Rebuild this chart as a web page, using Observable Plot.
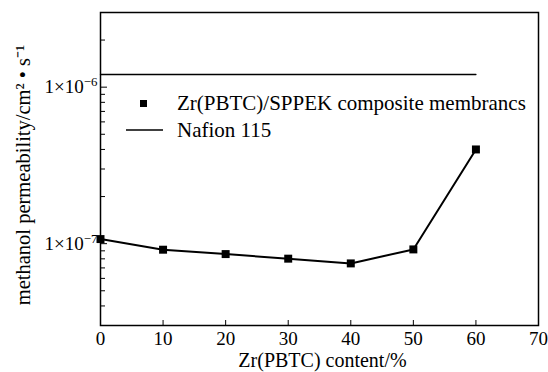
<!DOCTYPE html>
<html><head><meta charset="utf-8">
<script src="https://cdn.jsdelivr.net/npm/d3@7"></script>
<script src="https://cdn.jsdelivr.net/npm/@observablehq/plot@0.6"></script>
<style>
body{margin:0;background:#fff;}
#chart svg{font-family:"Liberation Serif","Times New Roman",serif;}
</style>
</head><body><div id="chart"></div>
<script>
// Data
const content = [0, 10, 20, 30, 40, 50, 60];
const permeability = [1.07e-7, 9.15e-8, 8.58e-8, 8.02e-8, 7.48e-8, 9.19e-8, 4.0e-7];
const nafionContent = [0, 60];
const nafionPermeability = [1.205e-6, 1.205e-6];
const seriesNames = ["Zr(PBTC)/SPPEK composite membrancs", "Nafion 115"];
const xTicks = [0, 10, 20, 30, 40, 50, 60, 70];
const xInnerTicks = [10, 20, 30, 40, 50, 60];
const yMajorTicks = [1e-7, 1e-6];
const yMajorExponents = ["−7", "−6"];
const yMinorTicks = [4e-8, 5e-8, 6e-8, 7e-8, 8e-8, 9e-8, 2e-7, 3e-7, 4e-7, 5e-7, 6e-7, 7e-7, 8e-7, 9e-7, 2e-6];
const xTitle = "Zr(PBTC) content/%";
const yTitle = "methanol permeability/cm² • s⁻¹";

const composite = content.map((c, i) => ({content: c, value: permeability[i]}));
const nafion = nafionContent.map((c, i) => ({content: c, value: nafionPermeability[i]}));

function legend(index, scales, values, dimensions) {
  const g = d3.create("svg:g");
  const x0 = dimensions.marginLeft, y0 = dimensions.marginTop;
  g.append("rect").attr("x", x0 + 40).attr("y", y0 + 88).attr("width", 7).attr("height", 7).attr("fill", "black");
  g.append("line").attr("x1", x0 + 26).attr("x2", x0 + 63).attr("y1", y0 + 118).attr("y2", y0 + 118)
    .attr("stroke", "black").attr("stroke-width", 1.3);
  g.selectAll("text").data(seriesNames).join("text")
    .attr("x", x0 + 77).attr("y", (d, i) => y0 + 91 + i * 27)
    .attr("text-anchor", "start")
    .attr("dy", "0.35em").attr("font-size", 21).text(d => d);
  return g.node();
}

const chart = Plot.plot({
  width: 548,
  height: 372,
  marginTop: 12,
  marginBottom: 47,
  marginLeft: 100,
  marginRight: 10,
  style: {fontFamily: "Liberation Serif, serif", fontSize: "19px", color: "black", background: "white"},
  x: {domain: [0, 70]},
  y: {type: "log", domain: [3e-8, 3e-6]},
  marks: [
    Plot.axisX(xTicks, {tickSize: 0, tickPadding: 6, fontSize: 19, label: null}),
    Plot.axisX(xInnerTicks, {tickSize: -5, tickFormat: () => "", label: null}),
    Plot.axisY(yMajorTicks, {tickSize: -7, tickPadding: 10, tickFormat: (d) => "1×10" + yMajorExponents[yMajorTicks.indexOf(d)], fontSize: 19, label: null}),
    Plot.axisY(yMinorTicks, {tickSize: -5, tickFormat: () => "", label: null}),
    Plot.frame({stroke: "black", strokeWidth: 1.5}),
    Plot.line(nafion, {x: "content", y: "value", stroke: "black", strokeWidth: 1.3}),
    Plot.line(composite, {x: "content", y: "value", stroke: "black", strokeWidth: 2}),
    Plot.dot(composite, {x: "content", y: "value", symbol: "square", r: 4.5, fill: "black"}),
    Plot.text([xTitle], {frameAnchor: "bottom", lineAnchor: "middle", textAnchor: "middle", dy: 35, dx: 3, fontSize: 20}),
    Plot.text([yTitle], {frameAnchor: "left", lineAnchor: "middle", textAnchor: "middle", dx: -77, dy: 6, rotate: -90, fontSize: 20.5}),
    legend
  ]
});
// Render the exponent of the major y tick labels as a real superscript
d3.select(chart).selectAll("text").each(function() {
  const t = d3.select(this);
  const s = t.text();
  const m = /^1×10(−\d)$/.exec(s);
  if (m) {
    t.text("1×10");
    t.append("tspan").attr("dy", "-0.55em").attr("font-size", "0.68em").text(m[1]);
  }
});
document.getElementById("chart").append(chart);
</script>
</body></html>
